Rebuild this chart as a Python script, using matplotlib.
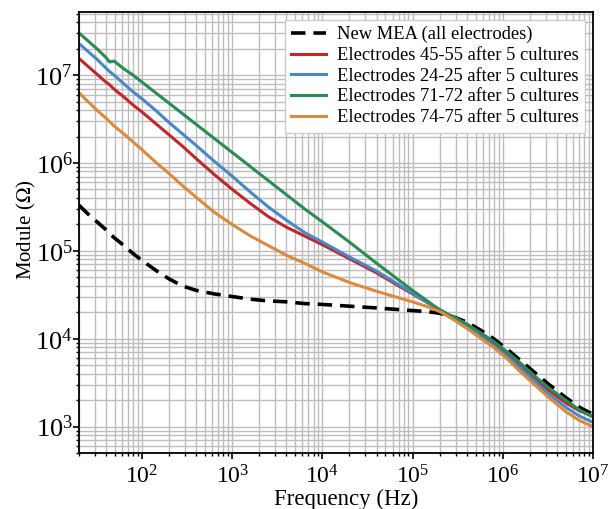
import numpy as np
import matplotlib
matplotlib.use("Agg")
import matplotlib.pyplot as plt

plt.rcParams['font.family'] = ['Liberation Serif', 'DejaVu Serif']
plt.rcParams['mathtext.fontset'] = 'stix'

# log10 of frequency (Hz) at which each curve was read
log_f = [1.30, 1.40, 1.50, 1.60, 1.64, 1.69, 1.80, 1.90, 2.0, 2.15, 2.3, 2.45, 2.6, 2.8,
         3.0, 3.2, 3.4, 3.6, 3.8, 4.0, 4.3, 4.6, 5.0, 5.15, 5.3, 5.45, 5.6, 5.75, 5.9,
         6.05, 6.2, 6.35, 6.5, 6.7, 6.85, 7.0]

# log10 of module (ohm)
new_mea = [5.52, 5.42, 5.33, 5.24, 5.20, 5.15, 5.06, 4.97, 4.89, 4.78, 4.68, 4.60, 4.55, 4.51,
           4.48, 4.45, 4.43, 4.42, 4.40, 4.39, 4.37, 4.35, 4.32, 4.31, 4.29, 4.25, 4.19, 4.10, 4.00,
           3.88, 3.75, 3.62, 3.49, 3.33, 3.22, 3.14]
el_45_55 = [7.19, 7.10, 7.01, 6.92, 6.89, 6.84, 6.75, 6.66, 6.58, 6.45, 6.32, 6.19, 6.05, 5.87,
            5.70, 5.54, 5.39, 5.27, 5.17, 5.07, 4.91, 4.75, 4.51, 4.42, 4.33, 4.24, 4.15, 4.06, 3.95,
            3.83, 3.70, 3.56, 3.42, 3.27, 3.18, 3.12]
el_24_25 = [7.36, 7.27, 7.18, 7.08, 7.04, 7.00, 6.90, 6.81, 6.73, 6.60, 6.46, 6.33, 6.20, 6.02,
            5.85, 5.67, 5.50, 5.35, 5.21, 5.10, 4.93, 4.77, 4.52, 4.42, 4.33, 4.23, 4.14, 4.03, 3.92,
            3.80, 3.66, 3.52, 3.38, 3.22, 3.12, 3.05]
el_71_72 = [7.48, 7.39, 7.30, 7.20, 7.15, 7.16, 7.07, 7.00, 6.92, 6.80, 6.68, 6.56, 6.44, 6.28,
            6.12, 5.96, 5.80, 5.64, 5.48, 5.33, 5.10, 4.86, 4.55, 4.44, 4.33, 4.25, 4.17, 4.07, 3.97,
            3.85, 3.72, 3.58, 3.45, 3.30, 3.19, 3.11]
el_74_75 = [6.80, 6.70, 6.60, 6.51, 6.47, 6.42, 6.33, 6.24, 6.15, 6.01, 5.88, 5.74, 5.61, 5.44,
            5.30, 5.17, 5.06, 4.95, 4.86, 4.76, 4.64, 4.54, 4.42, 4.37, 4.31, 4.22, 4.12, 4.01, 3.90,
            3.77, 3.62, 3.48, 3.34, 3.17, 3.07, 3.00]

labels = ['New MEA (all electrodes)',
          'Electrodes 45-55 after 5 cultures',
          'Electrodes 24-25 after 5 cultures',
          'Electrodes 71-72 after 5 cultures',
          'Electrodes 74-75 after 5 cultures']

freq = 10 ** np.array(log_f)

fig = plt.figure(figsize=(6.08, 5.09), dpi=100)
ax = fig.add_axes([0.130, 0.110, 0.845, 0.866])

ax.plot(freq, 10 ** np.array(new_mea), color='black', ls='--', lw=2.6, dashes=(4, 2.2), label=labels[0])
ax.plot(freq, 10 ** np.array(el_45_55), color='#c0272d', lw=2.2, label=labels[1])
ax.plot(freq, 10 ** np.array(el_24_25), color='#4a87c7', lw=2.2, label=labels[2])
ax.plot(freq, 10 ** np.array(el_71_72), color='#2a8c55', lw=2.2, label=labels[3])
ax.plot(freq, 10 ** np.array(el_74_75), color='#dc8a3c', lw=2.2, label=labels[4])

ax.set_xscale('log')
ax.set_yscale('log')
ax.set_xlim(20, 1e7)
ax.set_ylim(500, 5.2e7)
ax.grid(True, which='both', color='#bdbdbd', lw=1.0)
ax.set_axisbelow(True)

ax.tick_params(axis='both', which='major', length=4, width=1.2)
ax.tick_params(axis='both', which='minor', length=2.5, width=1.0)
ax.tick_params(axis='x', which='major', labelsize=17, pad=5)
ax.tick_params(axis='y', which='major', labelsize=19, pad=0.5)
for s in ax.spines.values():
    s.set_linewidth(1.3)

ax.set_xlabel('Frequency (Hz)', fontsize=16.5)
ax.set_ylabel(r'Module ($\Omega$)', fontsize=15)
ax.xaxis.set_label_coords(0.52, -0.081)
ax.yaxis.set_label_coords(-0.08, 0.506)

leg = ax.legend(loc='upper right', fontsize=13.3, fancybox=False, framealpha=1,
                edgecolor='#cccccc', borderaxespad=0.4, handlelength=1.9,
                labelspacing=0.2, borderpad=0.35, handletextpad=0.6)
leg.get_frame().set_linewidth(1.0)

fig.savefig('out.png', dpi=100)
